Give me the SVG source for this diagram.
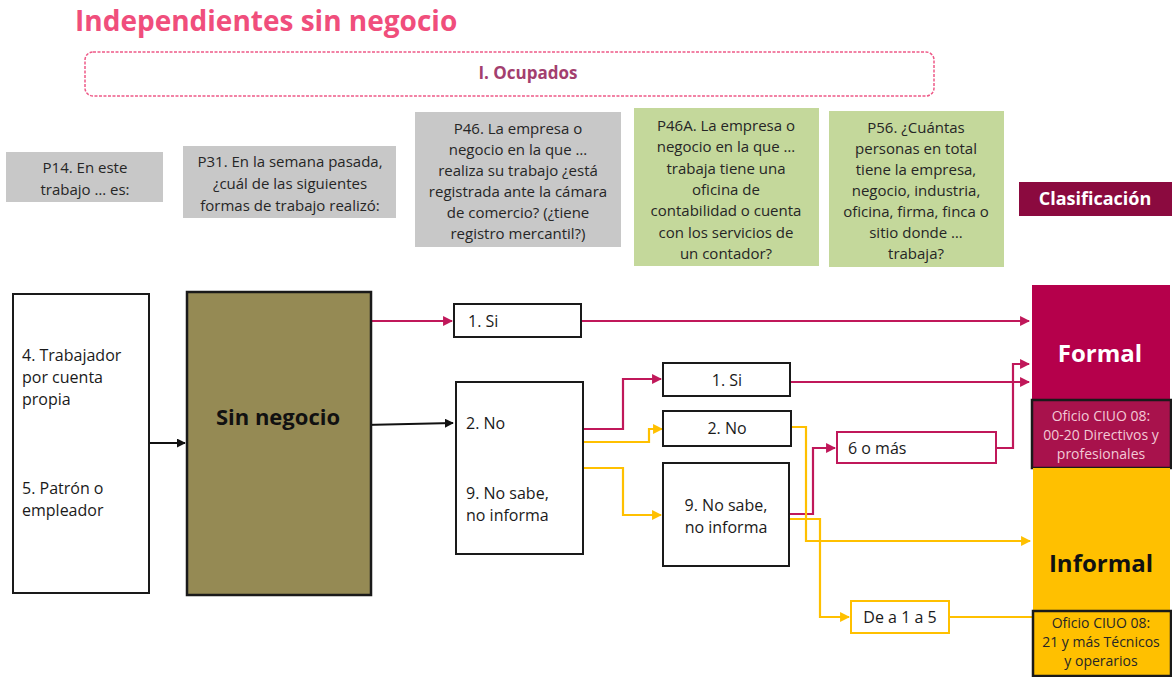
<svg xmlns="http://www.w3.org/2000/svg" width="1172" height="677" viewBox="0 0 1172 677">
<style>
text{font-family:"Open Sans","Noto Sans","DejaVu Sans",sans-serif;}
.q{font-size:15px;fill:#262626;text-anchor:middle;}
.gray{fill:#C8C8C8;}
.green{fill:#C4D89B;}
.box{fill:#fff;stroke:#1a1a1a;stroke-width:2;}
.t{font-size:16px;fill:#1a1a1a;}
.r{fill:none;stroke:#C0185A;stroke-width:2.2;}
.y{fill:none;stroke:#FFC000;stroke-width:2.2;}
.k{fill:none;stroke:#111;stroke-width:2;}
</style>
<defs>
<marker id="ar" viewBox="0 0 10 10" refX="9" refY="5" markerWidth="4.5" markerHeight="4.5" orient="auto"><path d="M0,0L10,5L0,10z" fill="#C0185A"/></marker>
<marker id="ay" viewBox="0 0 10 10" refX="9" refY="5" markerWidth="4.5" markerHeight="4.5" orient="auto"><path d="M0,0L10,5L0,10z" fill="#FFC000"/></marker>
<marker id="ak" viewBox="0 0 10 10" refX="9" refY="5" markerWidth="4.5" markerHeight="4.5" orient="auto"><path d="M0,0L10,5L0,10z" fill="#111"/></marker>
</defs>

<text x="75" y="31" font-size="28" font-weight="bold" fill="#F04E7C">Independientes sin negocio</text>

<g id="ocupados">
<rect x="85" y="52" width="849" height="44" rx="8" fill="#fff" stroke="#EE5A88" stroke-width="1.5" stroke-dasharray="3,1.5"/>
<text x="528" y="79" font-size="17" font-weight="bold" fill="#A33F6F" text-anchor="middle">I. Ocupados</text>
</g>

<g id="p14">
<rect class="gray" x="6" y="152" width="157" height="50"/>
<text class="q" x="85" y="173">P14. En este</text>
<text class="q" x="85" y="195">trabajo … es:</text>
</g>
<g id="p31">
<rect class="gray" x="183" y="146" width="213" height="72"/>
<text class="q" x="290" y="167">P31. En la semana pasada,</text>
<text class="q" x="290" y="189">¿cuál de las siguientes</text>
<text class="q" x="290" y="211">formas de trabajo realizó:</text>
</g>
<g id="p46">
<rect class="gray" x="415" y="112" width="206" height="135"/>
<text class="q" x="518" y="134">P46. La empresa o</text>
<text class="q" x="518" y="155">negocio en la que …</text>
<text class="q" x="518" y="176">realiza su trabajo ¿está</text>
<text class="q" x="518" y="197">registrada ante la cámara</text>
<text class="q" x="518" y="218">de comercio? (¿tiene</text>
<text class="q" x="518" y="239">registro mercantil?)</text>
</g>
<g id="p46a">
<rect class="green" x="634" y="108" width="185" height="158"/>
<text class="q" x="726" y="131">P46A. La empresa o</text>
<text class="q" x="726" y="152">negocio en la que …</text>
<text class="q" x="726" y="174">trabaja tiene una</text>
<text class="q" x="726" y="195">oficina de</text>
<text class="q" x="726" y="216">contabilidad o cuenta</text>
<text class="q" x="726" y="238">con los servicios de</text>
<text class="q" x="726" y="259">un contador?</text>
</g>
<g id="p56">
<rect class="green" x="829" y="111" width="175" height="156"/>
<text class="q" x="916" y="133">P56. ¿Cuántas</text>
<text class="q" x="916" y="154">personas en total</text>
<text class="q" x="916" y="175">tiene la empresa,</text>
<text class="q" x="916" y="196">negocio, industria,</text>
<text class="q" x="916" y="217">oficina, firma, finca o</text>
<text class="q" x="916" y="238">sitio donde …</text>
<text class="q" x="916" y="259">trabaja?</text>
</g>
<g id="clasificacion">
<rect x="1019" y="182" width="153" height="34" fill="#8B0A3F"/>
<text x="1095" y="205" font-size="18" font-weight="bold" fill="#fff" text-anchor="middle">Clasificación</text>
</g>

<g id="connectors">
<path class="k" d="M149,443H185" marker-end="url(#ak)"/>
<path class="r" d="M371,321H452" marker-end="url(#ar)"/>
<path class="k" d="M364,425L453,423" marker-end="url(#ak)"/>
<path class="r" d="M581,321H1029" marker-end="url(#ar)"/>
<path class="r" d="M583,429H623V379H661" marker-end="url(#ar)"/>
<path class="y" d="M583,442H649V429H662" marker-end="url(#ay)"/>
<path class="y" d="M583,468H623V515H661" marker-end="url(#ay)"/>
<path class="r" d="M790,382H1029" marker-end="url(#ar)"/>
<path class="r" d="M996,448H1013V364H1029" marker-end="url(#ar)"/>
<path class="r" d="M789,514H813V448H835" marker-end="url(#ar)"/>
<path class="y" d="M791,427H806V541H1030" marker-end="url(#ay)"/>
<path class="y" d="M789,519H820V617H849" marker-end="url(#ay)"/>
<path class="y" d="M949,617H1032"/>
</g>

<g id="ocupacion">
<rect class="box" x="13" y="294" width="136" height="299"/>
<text class="t" x="22" y="361">4. Trabajador</text>
<text class="t" x="22" y="383">por cuenta</text>
<text class="t" x="22" y="405">propia</text>
<text class="t" x="22" y="494">5. Patrón o</text>
<text class="t" x="22" y="516">empleador</text>
</g>
<g id="sin-negocio">
<rect x="187" y="292" width="184" height="303" fill="#958A54" stroke="#1a1a1a" stroke-width="2.5"/>
<text x="278" y="425" font-size="22" font-weight="bold" fill="#111" text-anchor="middle">Sin negocio</text>
</g>
<g id="p46-si">
<rect class="box" x="454" y="304" width="127" height="33"/>
<text class="t" x="468" y="327">1. Si</text>
</g>
<g id="p46-no">
<rect class="box" x="456" y="382" width="127" height="172"/>
<text class="t" x="466" y="429">2. No</text>
<text class="t" x="466" y="499">9. No sabe,</text>
<text class="t" x="466" y="521">no informa</text>
</g>
<g id="p46a-si">
<rect class="box" x="663" y="363" width="127" height="33"/>
<text class="t" x="727" y="386" text-anchor="middle">1. Si</text>
</g>
<g id="p46a-no">
<rect class="box" x="663" y="411" width="128" height="35"/>
<text class="t" x="727" y="434" text-anchor="middle">2. No</text>
</g>
<g id="p46a-ns">
<rect class="box" x="663" y="463" width="126" height="103"/>
<text class="t" x="726" y="511" text-anchor="middle">9. No sabe,</text>
<text class="t" x="726" y="533" text-anchor="middle">no informa</text>
</g>
<g id="seis-o-mas">
<rect x="837" y="432" width="159" height="31" fill="#fff" stroke="#C0185A" stroke-width="2"/>
<text class="t" x="848" y="454">6 o más</text>
</g>
<g id="uno-a-cinco">
<rect x="851" y="601" width="98" height="32" fill="#fff" stroke="#FFC000" stroke-width="2"/>
<text class="t" x="900" y="623" text-anchor="middle">De a 1 a 5</text>
</g>
<g id="formal">
<rect x="1032" y="285" width="138" height="116" fill="#B5004B"/>
<text x="1100" y="362" font-size="24" font-weight="bold" fill="#fff" text-anchor="middle">Formal</text>
<rect x="1032" y="400" width="139" height="68" fill="#A8124C" stroke="#1a1a1a" stroke-width="2.5"/>
<text x="1101" y="421" font-size="14" fill="#F2C9D6" text-anchor="middle">Oficio CIUO 08:</text>
<text x="1101" y="440" font-size="14" fill="#F2C9D6" text-anchor="middle">00-20  Directivos y</text>
<text x="1101" y="459" font-size="14" fill="#F2C9D6" text-anchor="middle">profesionales</text>
</g>
<g id="informal">
<rect x="1033" y="468" width="137" height="143" fill="#FFC000"/>
<text x="1101" y="572" font-size="24" font-weight="bold" fill="#111" text-anchor="middle">Informal</text>
<rect x="1033" y="611" width="138" height="65" fill="#FFC000" stroke="#1a1a1a" stroke-width="2.5"/>
<text x="1101" y="628" font-size="14" fill="#262626" text-anchor="middle">Oficio CIUO 08:</text>
<text x="1101" y="647" font-size="14" fill="#262626" text-anchor="middle">21 y más Técnicos</text>
<text x="1101" y="666" font-size="14" fill="#262626" text-anchor="middle">y operarios</text>
</g>
</svg>
